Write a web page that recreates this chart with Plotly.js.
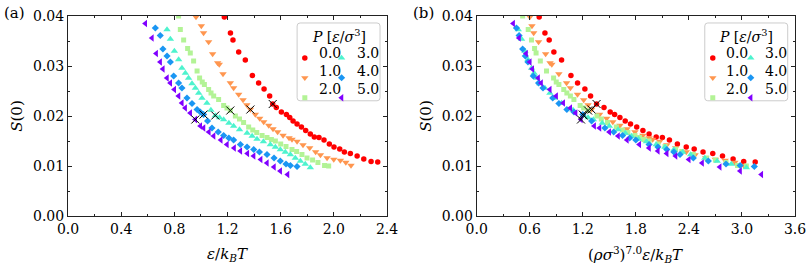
<!DOCTYPE html>
<html><head><meta charset="utf-8">
<script src="https://cdn.plot.ly/plotly-3.0.1.min.js"></script>
<style>html,body{margin:0;padding:0;background:#fff}#chart{width:809px;height:266px}</style>
</head><body><div id="chart"></div>
<script>
// ---- data ----
const pressures = ['0.0', '1.0', '2.0', '3.0', '4.0', '5.0'];

// P = 0.0
const y0 = [0.0398,0.0366,0.0352,0.0328,0.0312,0.0281,0.0266,0.0254,0.0240,0.0224,0.0217,0.0208,0.0203,0.0197,0.0190,0.0184,0.0178,0.0171,0.0164,0.0158,0.0157,0.0152,0.0144,0.0138,0.0134,0.0128,0.0125,0.0120,0.0114,0.0109,0.0108];
const x0a = [1.176,1.222,1.241,1.284,1.334,1.387,1.434,1.475,1.517,1.540,1.567,1.605,1.643,1.668,1.693,1.723,1.756,1.788,1.823,1.853,1.888,1.926,1.966,2.001,2.044,2.079,2.124,2.175,2.225,2.280,2.330];
const x0b = [0.707,0.772,0.820,0.873,0.960,1.066,1.141,1.224,1.288,1.356,1.440,1.510,1.560,1.620,1.680,1.740,1.810,1.880,1.950,2.030,2.100,2.180,2.270,2.370,2.460,2.560,2.670,2.780,2.900,3.020,3.150];

// P = 1.0
const y1 = [0.0398,0.0380,0.0366,0.0348,0.0324,0.0306,0.0303,0.0284,0.0266,0.0256,0.0243,0.0232,0.0222,0.0213,0.0203,0.0195,0.0188,0.0181,0.0174,0.0168,0.0161,0.0156,0.0153,0.0149,0.0142,0.0136,0.0128,0.0122,0.0116,0.0113,0.0111,0.0107,0.0101];
const x1a = [0.963,1.003,1.020,1.058,1.088,1.126,1.138,1.166,1.221,1.246,1.284,1.317,1.345,1.372,1.409,1.442,1.472,1.510,1.542,1.577,1.618,1.663,1.685,1.723,1.768,1.818,1.863,1.899,1.949,1.999,2.049,2.090,2.129];
const x1b = [0.602,0.625,0.645,0.700,0.780,0.830,0.850,0.930,1.017,1.060,1.140,1.210,1.260,1.300,1.390,1.470,1.540,1.620,1.700,1.790,1.880,1.950,1.990,2.070,2.150,2.250,2.370,2.470,2.590,2.700,2.810,2.920,3.020];

// P = 2.0
const y2 = [0.0400,0.0373,0.0352,0.0335,0.0326,0.0310,0.0290,0.0276,0.0268,0.0263,0.0253,0.0246,0.0240,0.0233,0.0221,0.0216,0.0211,0.0200,0.0194,0.0187,0.0178,0.0172,0.0167,0.0161,0.0157,0.0153,0.0150,0.0144,0.0139,0.0133,0.0129,0.0123,0.0116,0.0112,0.0107,0.0101,0.0100];
const x2a = [0.832,0.845,0.870,0.900,0.920,0.945,0.971,0.990,1.010,1.026,1.058,1.076,1.096,1.133,1.171,1.196,1.221,1.259,1.290,1.321,1.359,1.390,1.420,1.460,1.497,1.530,1.560,1.600,1.640,1.685,1.720,1.760,1.798,1.840,1.880,1.930,1.961];
const x2b = [0.520,0.583,0.620,0.655,0.672,0.720,0.790,0.870,0.900,0.930,0.985,1.020,1.060,1.100,1.170,1.210,1.260,1.360,1.410,1.480,1.580,1.650,1.710,1.790,1.840,1.890,1.950,2.050,2.130,2.250,2.320,2.450,2.600,2.700,2.820,2.950,3.050];

// P = 3.0
const y3 = [0.0373,0.0354,0.0330,0.0313,0.0296,0.0286,0.0276,0.0265,0.0256,0.0246,0.0236,0.0226,0.0212,0.0201,0.0197,0.0193,0.0186,0.0180,0.0173,0.0166,0.0160,0.0154,0.0149,0.0143,0.0138,0.0133,0.0128,0.0123,0.0116,0.0110,0.0104,0.0097];
const x3a = [0.745,0.770,0.800,0.832,0.857,0.883,0.907,0.933,0.958,0.983,1.008,1.045,1.075,1.108,1.140,1.171,1.210,1.246,1.290,1.347,1.385,1.422,1.470,1.522,1.560,1.597,1.635,1.673,1.710,1.748,1.785,1.823];
const x3b = [0.470,0.508,0.545,0.580,0.621,0.650,0.680,0.715,0.772,0.828,0.880,0.960,1.090,1.210,1.260,1.320,1.420,1.500,1.600,1.680,1.750,1.830,1.920,2.030,2.130,2.230,2.330,2.420,2.580,2.720,2.880,3.050];

// P = 4.0
const y4 = [0.0376,0.0361,0.0334,0.0320,0.0308,0.0280,0.0266,0.0256,0.0236,0.0225,0.0213,0.0208,0.0203,0.0190,0.0176,0.0168,0.0161,0.0156,0.0152,0.0143,0.0138,0.0133,0.0128,0.0123,0.0116,0.0110,0.0104,0.0101,0.0099];
const x4a = [0.657,0.694,0.714,0.745,0.770,0.795,0.832,0.857,0.895,0.933,0.971,0.995,1.020,1.050,1.083,1.130,1.171,1.210,1.246,1.297,1.347,1.397,1.440,1.497,1.550,1.597,1.640,1.673,1.723];
const x4b = [0.450,0.480,0.520,0.550,0.580,0.640,0.700,0.750,0.860,0.930,1.020,1.100,1.200,1.300,1.450,1.550,1.650,1.730,1.800,1.950,2.050,2.150,2.230,2.300,2.450,2.620,2.820,2.980,3.140];

// P = 5.0
const y5 = [0.0385,0.0356,0.0325,0.0308,0.0294,0.0276,0.0266,0.0253,0.0240,0.0226,0.0216,0.0206,0.0193,0.0180,0.0176,0.0168,0.0160,0.0152,0.0143,0.0136,0.0130,0.0125,0.0120,0.0113,0.0106,0.0098,0.0090,0.0083];
const x5a = [0.582,0.632,0.664,0.694,0.714,0.745,0.770,0.800,0.832,0.857,0.882,0.920,0.958,0.996,1.020,1.060,1.096,1.150,1.196,1.250,1.297,1.350,1.397,1.450,1.497,1.550,1.597,1.652];
const x5b = [0.414,0.480,0.560,0.602,0.630,0.696,0.730,0.828,0.900,0.980,1.060,1.120,1.180,1.330,1.390,1.500,1.600,1.700,1.840,1.950,2.050,2.150,2.250,2.400,2.550,2.750,2.980,3.220];

// crossover marks (x) per isobar
const markY  = [0.0224,0.0213,0.0211,0.0201,0.0203,0.0193];
const markXa = [1.540,1.372,1.221,1.108,1.020,0.958];
const markXb = [1.356,1.300,1.260,1.210,1.200,1.180];

// tick settings
const yTicks = [0, 0.01, 0.02, 0.03, 0.04];
const xTicksA = [0, 0.4, 0.8, 1.2, 1.6, 2.0, 2.4];
const xTicksB = [0, 0.6, 1.2, 1.8, 2.4, 3.0, 3.6];

// titles
const xTitleA = '<i>ε</i>/<i>k</i><sub><i>B</i></sub><i>T</i>';
const xTitleB = '(<i>ρσ</i><sup>3</sup>)<sup>7.0</sup><i>ε</i>/<i>k</i><sub><i>B</i></sub><i>T</i>';
const yTitle = '<i>S</i>(0)';
const legTitle = '<i>P</i> [<i>ε</i>/<i>σ</i><sup>3</sup>]';

// ---- styles ----
const colors = ['#ff0000', '#ff964f', '#b3f396', '#4df3ce', '#1a96f3', '#8000ff'];
const symbols = ['circle', 'triangle-down', 'square', 'triangle-up', 'diamond', 'triangle-left'];
const sizes = [5.5, 6.5, 5, 6.5, 5.5, 6.5];
const FONT = '"DejaVu Serif", serif';

const xsA = [x0a, x1a, x2a, x3a, x4a, x5a];
const xsB = [x0b, x1b, x2b, x3b, x4b, x5b];
const ys = [y0, y1, y2, y3, y4, y5];

const traces = [];
for (let i = 0; i < 6; i++) {
  const col = i < 3 ? 0 : 1;
  traces.push({
    type: 'scatter', mode: 'markers', x: xsA[i], y: ys[i], xaxis: 'x', yaxis: 'y',
    name: '', legend: col === 0 ? 'legend' : 'legend2',
    marker: {color: colors[i], symbol: symbols[i], size: sizes[i], line: {width: 0}},
    hoverinfo: 'skip'
  });
}
for (let i = 0; i < 6; i++) {
  const col = i < 3 ? 0 : 1;
  traces.push({
    type: 'scatter', mode: 'markers', x: xsB[i], y: ys[i], xaxis: 'x2', yaxis: 'y2',
    name: '', legend: col === 0 ? 'legend3' : 'legend4',
    marker: {color: colors[i], symbol: symbols[i], size: sizes[i], line: {width: 0}},
    hoverinfo: 'skip'
  });
}
traces.push({type: 'scatter', mode: 'markers', x: markXa, y: markY, xaxis: 'x', yaxis: 'y', showlegend: false,
  marker: {symbol: 'x-thin', size: 8, color: '#000', line: {width: 1, color: '#000'}}, hoverinfo: 'skip'});
traces.push({type: 'scatter', mode: 'markers', x: markXb, y: markY, xaxis: 'x2', yaxis: 'y2', showlegend: false,
  marker: {symbol: 'x-thin', size: 8, color: '#000', line: {width: 1, color: '#000'}}, hoverinfo: 'skip'});

const W = 809, H = 266;
const M = {l: 67.7, r: 809 - 795.3, t: 16, b: 266 - 216.5};
const PW = W - M.l - M.r, PH = H - M.t - M.b;
const px = v => (v - M.l) / PW, py = v => 1 - (v - M.t) / PH;

function axisX(range, ticks, minorD, domain, anchor) {
  return {
    domain: domain, anchor: anchor, range: range, tickvals: ticks, tickformat: '.1f',
    ticks: 'inside', ticklen: 4, tickwidth: 1, tickcolor: '#222', mirror: 'allticks',
    showline: true, linecolor: '#222', linewidth: 1, showgrid: false, zeroline: false,
    minor: {ticks: 'inside', ticklen: 2, dtick: minorD, tick0: 0, tickcolor: '#222', showgrid: false},
    tickfont: {family: FONT, size: 14, color: '#000'},
    automargin: false, fixedrange: true
  };
}
function axisY(domain, anchor) {
  return {
    domain: domain, anchor: anchor, range: [0, 0.04], tickvals: yTicks, tickformat: '.2f',
    ticks: 'inside', ticklen: 4, tickwidth: 1, tickcolor: '#222', mirror: 'allticks',
    showline: true, linecolor: '#222', linewidth: 1, showgrid: false, zeroline: false,
    minor: {ticks: 'inside', ticklen: 2, dtick: 0.005, tick0: 0, tickcolor: '#222', showgrid: false},
    tickfont: {family: FONT, size: 14, color: '#000'},
    title: {text: yTitle, font: {family: FONT, size: 15, color: '#000'}, standoff: 6},
    automargin: false, fixedrange: true
  };
}

function legendAt(xp, yp) {
  return {x: px(xp), y: py(yp), xanchor: 'left', yanchor: 'top', bgcolor: 'rgba(0,0,0,0)',
    borderwidth: 0, font: {family: FONT, size: 13, color: '#000'}, itemwidth: 30, tracegroupgap: 0};
}

function boxPath(x0, y0, x1, y1, r) {
  const rx = r / PW, ry = r / PH;
  const X0 = px(x0), X1 = px(x1), Y0 = py(y0), Y1 = py(y1);
  return `M ${X0 + rx} ${Y0} L ${X1 - rx} ${Y0} Q ${X1} ${Y0} ${X1} ${Y0 - ry} L ${X1} ${Y1 + ry} Q ${X1} ${Y1} ${X1 - rx} ${Y1} L ${X0 + rx} ${Y1} Q ${X0} ${Y1} ${X0} ${Y1 + ry} L ${X0} ${Y0 - ry} Q ${X0} ${Y0} ${X0 + rx} ${Y0} Z`;
}

// legend labels placed next to the legend symbols
const legendTextX = [[316.5, 355], [724, 763]];
const legendRowY = [53.5, 71.5, 89.5];
const annotations = [
  {text: '(a)', xref: 'paper', yref: 'paper', x: px(2), y: py(2), xanchor: 'left', yanchor: 'top', showarrow: false, font: {family: FONT, size: 15, color: '#000'}},
  {text: '(b)', xref: 'paper', yref: 'paper', x: px(411), y: py(2), xanchor: 'left', yanchor: 'top', showarrow: false, font: {family: FONT, size: 15, color: '#000'}},
  {text: legTitle, xref: 'paper', yref: 'paper', x: px(338.5), y: py(36), xanchor: 'center', yanchor: 'middle', showarrow: false, font: {family: FONT, size: 14, color: '#000'}},
  {text: legTitle, xref: 'paper', yref: 'paper', x: px(746.5), y: py(36), xanchor: 'center', yanchor: 'middle', showarrow: false, font: {family: FONT, size: 14, color: '#000'}},
  {text: xTitleA, xref: 'paper', yref: 'paper', x: px(227.3), y: py(255), xanchor: 'center', yanchor: 'middle', showarrow: false, font: {family: FONT, size: 15, color: '#000'}},
  {text: xTitleB, xref: 'paper', yref: 'paper', x: px(636), y: py(255), xanchor: 'center', yanchor: 'middle', showarrow: false, font: {family: FONT, size: 15, color: '#000'}}
];
for (let p = 0; p < 2; p++) {
  for (let i = 0; i < 6; i++) {
    const c = i < 3 ? 0 : 1;
    annotations.push({text: pressures[i], xref: 'paper', yref: 'paper',
      x: px(legendTextX[p][c]), y: py(legendRowY[i % 3]), xanchor: 'left', yanchor: 'middle',
      showarrow: false, font: {family: FONT, size: 14, color: '#000'}});
  }
}

const layout = {
  width: W, height: H, margin: {l: M.l, r: M.r, t: M.t, b: M.b, pad: 0},
  paper_bgcolor: '#fff', plot_bgcolor: '#fff', showlegend: true,
  xaxis: axisX([0, 2.4], xTicksA, 0.2, [px(67.7), px(387)], 'y'),
  yaxis: axisY([0, 1], 'x'),
  xaxis2: axisX([0, 3.6], xTicksB, 0.3, [px(476.7), px(795.3)], 'y2'),
  yaxis2: axisY([0, 1], 'x2'),
  legend: legendAt(284.7, 43),
  legend2: legendAt(321.5, 43),
  legend3: legendAt(693, 43),
  legend4: legendAt(731, 43),
  shapes: [
    {type: 'path', xref: 'paper', yref: 'paper', path: boxPath(297, 23, 380, 101, 3), line: {color: '#cccccc', width: 1}, fillcolor: 'rgba(255,255,255,0.8)', layer: 'below'},
    {type: 'path', xref: 'paper', yref: 'paper', path: boxPath(705, 23, 788, 101, 3), line: {color: '#cccccc', width: 1}, fillcolor: 'rgba(255,255,255,0.8)', layer: 'below'}
  ],
  annotations: annotations
};

Plotly.newPlot('chart', traces, layout, {staticPlot: true, displayModeBar: false});
</script>
</body></html>
